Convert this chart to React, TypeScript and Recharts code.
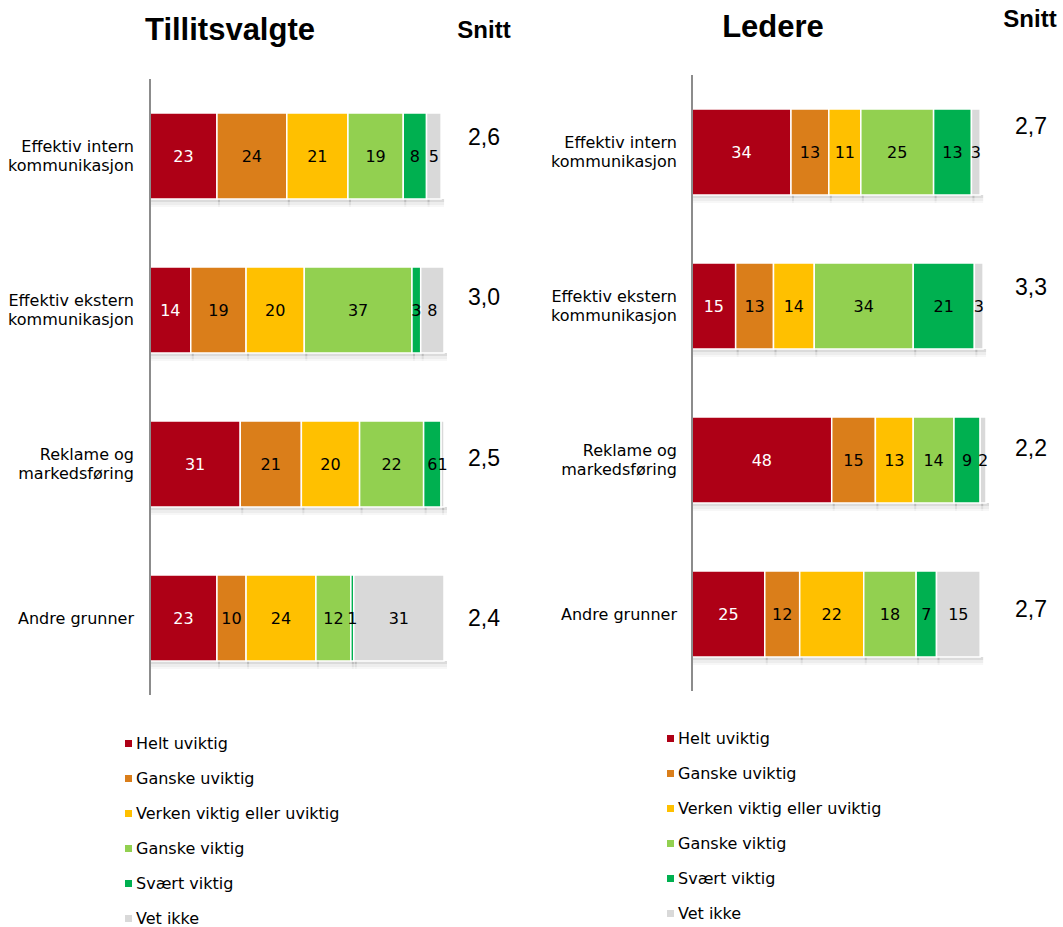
import React from "react";
import { BarChart, Bar, XAxis, YAxis, LabelList, Legend } from "recharts";

const categories = [
  "Effektiv intern kommunikasjon",
  "Effektiv ekstern kommunikasjon",
  "Reklame og markedsføring",
  "Andre grunner",
];
const categoryLines = [
  ["Effektiv intern", "kommunikasjon"],
  ["Effektiv ekstern", "kommunikasjon"],
  ["Reklame og", "markedsføring"],
  ["Andre grunner"],
];

const seriesNames = [
  "Helt uviktig",
  "Ganske uviktig",
  "Verken viktig eller uviktig",
  "Ganske viktig",
  "Svært viktig",
  "Vet ikke",
];
const seriesKeys = ["helt", "ganskeU", "verken", "ganskeV", "svaert", "vetIkke"];
const colors = ["#AE0016", "#DA7E1A", "#FFC000", "#92D050", "#00B050", "#D9D9D9"];

// Tillitsvalgte
const tHelt = [23, 14, 31, 23];
const tGanskeU = [24, 19, 21, 10];
const tVerken = [21, 20, 20, 24];
const tGanskeV = [19, 37, 22, 12];
const tSvaert = [8, 3, 6, 1];
const tVetIkke = [5, 8, 1, 31];
const tSnitt = ["2,6", "3,0", "2,5", "2,4"];

// Ledere
const lHelt = [34, 15, 48, 25];
const lGanskeU = [13, 13, 15, 12];
const lVerken = [11, 14, 13, 22];
const lGanskeV = [25, 34, 14, 18];
const lSvaert = [13, 21, 9, 7];
const lVetIkke = [3, 3, 2, 15];
const lSnitt = ["2,7", "3,3", "2,2", "2,7"];

const build = (cols: number[][]) =>
  categories.map((name, i) => {
    const row: any = { name };
    seriesKeys.forEach((k, j) => (row[k] = cols[j][i]));
    return row;
  });

const tData = build([tHelt, tGanskeU, tVerken, tGanskeV, tSvaert, tVetIkke]);
const lData = build([lHelt, lGanskeU, lVerken, lGanskeV, lSvaert, lVetIkke]);

const VERDANA = "'DejaVu Sans', Verdana, sans-serif";
const ARIAL = "'Liberation Sans', Arial, sans-serif";

const Segment = (p: any) => {
  const { x, y, width, height, fill } = p;
  if (!width || width <= 0) return null;
  return (
    <g>
      <rect x={x + 1} y={y + height} width={width + 2} height={3} fill="#000" opacity={0.14} />
      <rect x={x + 1} y={y + height + 3} width={width + 2} height={3} fill="#000" opacity={0.07} />
      <rect x={x + 1} y={y + height + 6} width={width + 2} height={2} fill="#000" opacity={0.03} />
      <rect x={x} y={y} width={width} height={height} fill={fill} stroke="#fff" strokeWidth={1.5} />
    </g>
  );
};

const CategoryTick = (p: any) => {
  const lines = categoryLines[p.index] || [String(p.payload.value)];
  const start = -((lines.length - 1) * 19) / 2;
  return (
    <text x={p.x} y={p.y} textAnchor="end" fontFamily={VERDANA} fontSize={16} fill="#000">
      {lines.map((l, i) => (
        <tspan key={i} x={p.x} y={p.y + start + i * 19} dy="0.35em">
          {l}
        </tspan>
      ))}
    </text>
  );
};

const makeSnittTick = (values: string[], dx: number, shift0: number, step: number) => (p: any) => (
  <text
    x={p.x + dx}
    y={p.y + shift0 + p.index * step}
    dy="0.35em"
    textAnchor="middle"
    fontFamily={ARIAL}
    fontSize={23}
    fill="#000"
  >
    {values[p.index]}
  </text>
);

const LegendList = () => (
  <div>
    {seriesNames.map((n, i) => (
      <div
        key={n}
        style={{ display: "flex", alignItems: "center", height: 35, fontFamily: VERDANA, fontSize: 16, color: "#000" }}
      >
        <span style={{ display: "inline-block", width: 7, height: 7, background: colors[i], marginRight: 4 }} />
        {n}
      </div>
    ))}
  </div>
);

function StackChart({
  data,
  snitt,
  width,
  leftWidth,
  top,
  snittDx,
  shift0,
  step,
  legendLeft,
  legendTop,
  labelMargin,
}: any) {
  const plotW = 294;
  return (
    <BarChart
      width={width}
      height={927}
      data={data}
      layout="vertical"
      margin={{ top, bottom: 927 - top - 616, left: 0, right: 0 }}
      barSize={86}
    >
      <XAxis type="number" domain={[0, 101]} hide xAxisId="x" />
      <YAxis
        yAxisId="left"
        type="category"
        dataKey="name"
        width={leftWidth}
        axisLine={{ stroke: "#8c8c8c", strokeWidth: 2 }}
        tickLine={false}
        tickSize={0}
        tickMargin={labelMargin}
        tick={<CategoryTick />}
        interval={0}
      />
      <YAxis
        yAxisId="right"
        orientation="right"
        type="category"
        dataKey="name"
        width={width - leftWidth - plotW}
        axisLine={false}
        tickLine={false}
        tickSize={0}
        tickMargin={0}
        tick={makeSnittTick(snitt, snittDx, shift0, step)}
        interval={0}
      />
      {seriesKeys.map((k, i) => (
        <Bar
          key={k}
          dataKey={k}
          name={seriesNames[i]}
          stackId="s"
          xAxisId="x"
          yAxisId="left"
          fill={colors[i]}
          shape={<Segment />}
          isAnimationActive={false}
        >
          <LabelList
            dataKey={k}
            position="center"
            fill={i === 0 ? "#fff" : "#000"}
            fontFamily={VERDANA}
            fontSize={16}
          />
        </Bar>
      ))}
      <Legend
        layout="vertical"
        align="center"
        verticalAlign="middle"
        content={<LegendList />}
        wrapperStyle={{ position: "absolute", left: legendLeft, top: legendTop, width: 320 }}
      />
    </BarChart>
  );
}

export default function App() {
  return (
    <div style={{ position: "absolute", left: 0, top: 0, width: 1063, height: 927, background: "#fff" }}>
      <div style={{ position: "absolute", left: 0, top: 0 }}>
        <StackChart
          data={tData}
          snitt={tSnitt}
          width={530}
          leftWidth={150}
          top={79}
          snittDx={40}
          shift0={-19}
          step={6.3}
          legendLeft={125}
          legendTop={726}
          labelMargin={16}
        />
      </div>
      <div style={{ position: "absolute", left: 540, top: 0 }}>
        <StackChart
          data={lData}
          snitt={lSnitt}
          width={523}
          leftWidth={152}
          top={75}
          snittDx={45}
          shift0={-26}
          step={7}
          legendLeft={127}
          legendTop={721}
          labelMargin={15}
        />
      </div>
      <div style={{ position: "absolute", left: 230, top: 30, transform: "translate(-50%,-50%)", fontFamily: ARIAL, fontWeight: "bold", fontSize: 31, whiteSpace: "nowrap" }}>
        Tillitsvalgte
      </div>
      <div style={{ position: "absolute", left: 773, top: 27, transform: "translate(-50%,-50%)", fontFamily: ARIAL, fontWeight: "bold", fontSize: 31, whiteSpace: "nowrap" }}>
        Ledere
      </div>
      <div style={{ position: "absolute", left: 484, top: 30, transform: "translate(-50%,-50%)", fontFamily: ARIAL, fontWeight: "bold", fontSize: 24, whiteSpace: "nowrap" }}>
        Snitt
      </div>
      <div style={{ position: "absolute", left: 1030, top: 19, transform: "translate(-50%,-50%)", fontFamily: ARIAL, fontWeight: "bold", fontSize: 24, whiteSpace: "nowrap" }}>
        Snitt
      </div>
    </div>
  );
}
